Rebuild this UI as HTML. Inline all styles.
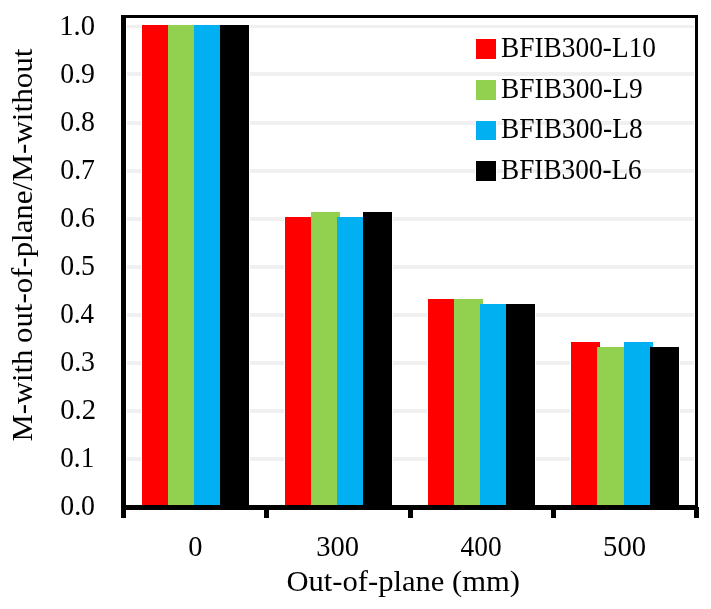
<!DOCTYPE html>
<html><head><meta charset="utf-8"><style>
html,body{margin:0;padding:0;background:#fff;overflow:hidden;}
svg{display:block;will-change:transform;}
.t{font-family:"Liberation Serif", serif;fill:#000;}
</style></head><body>
<svg width="711" height="609" viewBox="0 0 711 609">
<rect width="711" height="609" fill="#fff"/>
<rect x="127" y="457" width="567" height="4" fill="#f0f0f0"/>
<rect x="127" y="409" width="567" height="4" fill="#f0f0f0"/>
<rect x="127" y="361" width="567" height="4" fill="#f0f0f0"/>
<rect x="127" y="313" width="567" height="4" fill="#f0f0f0"/>
<rect x="127" y="265" width="567" height="4" fill="#f0f0f0"/>
<rect x="127" y="217" width="567" height="4" fill="#f0f0f0"/>
<rect x="127" y="169" width="567" height="4" fill="#f0f0f0"/>
<rect x="127" y="121" width="567" height="4" fill="#f0f0f0"/>
<rect x="127" y="72" width="567" height="4" fill="#f0f0f0"/>
<rect x="127" y="25" width="567" height="3" fill="#f0f0f0"/>
<rect x="141" y="24.00" width="31" height="483.00" fill="#fff"/>
<rect x="167" y="24.00" width="31" height="483.00" fill="#fff"/>
<rect x="193" y="24.00" width="31" height="483.00" fill="#fff"/>
<rect x="219" y="24.00" width="31" height="483.00" fill="#fff"/>
<rect x="284" y="216.00" width="31" height="291.00" fill="#fff"/>
<rect x="310" y="211.00" width="31" height="296.00" fill="#fff"/>
<rect x="336" y="216.00" width="31" height="291.00" fill="#fff"/>
<rect x="362" y="211.00" width="31" height="296.00" fill="#fff"/>
<rect x="427" y="298.00" width="31" height="209.00" fill="#fff"/>
<rect x="453" y="298.00" width="31" height="209.00" fill="#fff"/>
<rect x="479" y="303.00" width="31" height="204.00" fill="#fff"/>
<rect x="505" y="303.00" width="31" height="204.00" fill="#fff"/>
<rect x="570" y="341.00" width="31" height="166.00" fill="#fff"/>
<rect x="596" y="346.00" width="31" height="161.00" fill="#fff"/>
<rect x="623" y="341.00" width="31" height="166.00" fill="#fff"/>
<rect x="649" y="346.00" width="31" height="161.00" fill="#fff"/>
<rect x="142" y="25.00" width="29" height="482.00" fill="#ff0000"/>
<rect x="168" y="25.00" width="29" height="482.00" fill="#92d050"/>
<rect x="194" y="25.00" width="29" height="482.00" fill="#00b0f0"/>
<rect x="220" y="25.00" width="29" height="482.00" fill="#000000"/>
<rect x="285" y="217.00" width="29" height="290.00" fill="#ff0000"/>
<rect x="311" y="212.00" width="29" height="295.00" fill="#92d050"/>
<rect x="337" y="217.00" width="29" height="290.00" fill="#00b0f0"/>
<rect x="363" y="212.00" width="29" height="295.00" fill="#000000"/>
<rect x="428" y="299.00" width="29" height="208.00" fill="#ff0000"/>
<rect x="454" y="299.00" width="29" height="208.00" fill="#92d050"/>
<rect x="480" y="304.00" width="29" height="203.00" fill="#00b0f0"/>
<rect x="506" y="304.00" width="29" height="203.00" fill="#000000"/>
<rect x="571" y="342.00" width="29" height="165.00" fill="#ff0000"/>
<rect x="597" y="347.00" width="29" height="160.00" fill="#92d050"/>
<rect x="624" y="342.00" width="29" height="165.00" fill="#00b0f0"/>
<rect x="650" y="347.00" width="29" height="160.00" fill="#000000"/>
<rect x="121" y="15" width="577" height="3" fill="#000"/>
<rect x="695" y="15" width="3" height="492" fill="#000"/>
<rect x="121" y="15" width="5" height="503" fill="#000"/>
<rect x="121" y="505" width="576" height="5" fill="#000"/>
<rect x="264" y="507" width="5" height="11" fill="#000"/>
<rect x="408" y="507" width="5" height="11" fill="#000"/>
<rect x="551" y="507" width="5" height="11" fill="#000"/>
<rect x="694" y="507" width="5" height="11" fill="#000"/>
<rect x="475" y="38" width="22" height="22" fill="#fff"/>
<rect x="476" y="39" width="20" height="20" fill="#ff0000"/>
<rect x="475" y="79" width="22" height="22" fill="#fff"/>
<rect x="476" y="80" width="20" height="20" fill="#92d050"/>
<rect x="475" y="120" width="22" height="21" fill="#fff"/>
<rect x="476" y="121" width="20" height="19" fill="#00b0f0"/>
<rect x="475" y="160" width="22" height="22" fill="#fff"/>
<rect x="476" y="161" width="20" height="20" fill="#000000"/>
<text x="501.00" y="57.00" class="t" style="font-size:29.5px" text-anchor="start" textLength="155.03" lengthAdjust="spacingAndGlyphs">BFIB300-L10</text>
<text x="501.00" y="98.00" class="t" style="font-size:29.5px" text-anchor="start" textLength="141.68" lengthAdjust="spacingAndGlyphs">BFIB300-L9</text>
<text x="501.00" y="138.30" class="t" style="font-size:29.5px" text-anchor="start" textLength="141.68" lengthAdjust="spacingAndGlyphs">BFIB300-L8</text>
<text x="501.00" y="179.00" class="t" style="font-size:29.5px" text-anchor="start" textLength="140.74" lengthAdjust="spacingAndGlyphs">BFIB300-L6</text>
<text x="95.00" y="515.10" class="t" style="font-size:29.5px" text-anchor="end" textLength="34.77" lengthAdjust="spacingAndGlyphs">0.0</text>
<text x="94.20" y="467.10" class="t" style="font-size:29.5px" text-anchor="end" textLength="33.86" lengthAdjust="spacingAndGlyphs">0.1</text>
<text x="96.00" y="419.10" class="t" style="font-size:29.5px" text-anchor="end" textLength="35.79" lengthAdjust="spacingAndGlyphs">0.2</text>
<text x="95.00" y="371.10" class="t" style="font-size:29.5px" text-anchor="end" textLength="34.77" lengthAdjust="spacingAndGlyphs">0.3</text>
<text x="94.00" y="323.10" class="t" style="font-size:29.5px" text-anchor="end" textLength="33.80" lengthAdjust="spacingAndGlyphs">0.4</text>
<text x="95.00" y="275.10" class="t" style="font-size:29.5px" text-anchor="end" textLength="34.77" lengthAdjust="spacingAndGlyphs">0.5</text>
<text x="95.00" y="227.10" class="t" style="font-size:29.5px" text-anchor="end" textLength="34.77" lengthAdjust="spacingAndGlyphs">0.6</text>
<text x="95.00" y="179.10" class="t" style="font-size:29.5px" text-anchor="end" textLength="34.77" lengthAdjust="spacingAndGlyphs">0.7</text>
<text x="95.00" y="131.10" class="t" style="font-size:29.5px" text-anchor="end" textLength="34.77" lengthAdjust="spacingAndGlyphs">0.8</text>
<text x="95.00" y="83.10" class="t" style="font-size:29.5px" text-anchor="end" textLength="34.77" lengthAdjust="spacingAndGlyphs">0.9</text>
<text x="95.00" y="35.10" class="t" style="font-size:29.5px" text-anchor="end" textLength="35.76" lengthAdjust="spacingAndGlyphs">1.0</text>
<text x="195.40" y="556.00" class="t" style="font-size:29.5px" text-anchor="middle" textLength="14.23" lengthAdjust="spacingAndGlyphs">0</text>
<text x="337.70" y="556.00" class="t" style="font-size:29.5px" text-anchor="middle" textLength="42.81" lengthAdjust="spacingAndGlyphs">300</text>
<text x="481.10" y="556.00" class="t" style="font-size:29.5px" text-anchor="middle" textLength="41.08" lengthAdjust="spacingAndGlyphs">400</text>
<text x="624.60" y="556.00" class="t" style="font-size:29.5px" text-anchor="middle" textLength="42.98" lengthAdjust="spacingAndGlyphs">500</text>
<text x="403.20" y="591.00" class="t" style="font-size:29.5px" text-anchor="middle" textLength="233.57" lengthAdjust="spacingAndGlyphs">Out-of-plane (mm)</text>
<text transform="translate(31.70,395.60) rotate(-90)" x="0" y="0" class="t" style="font-size:29.5px" text-anchor="middle" textLength="91.97" lengthAdjust="spacingAndGlyphs">M-with</text>
<text transform="translate(31.70,262.50) rotate(-90)" x="0" y="0" class="t" style="font-size:29.5px" text-anchor="middle" textLength="161.06" lengthAdjust="spacingAndGlyphs">out-of-plane/</text>
<text transform="translate(31.70,115.10) rotate(-90)" x="0" y="0" class="t" style="font-size:29.5px" text-anchor="middle" textLength="133.08" lengthAdjust="spacingAndGlyphs">M-without</text>
</svg>
</body></html>
